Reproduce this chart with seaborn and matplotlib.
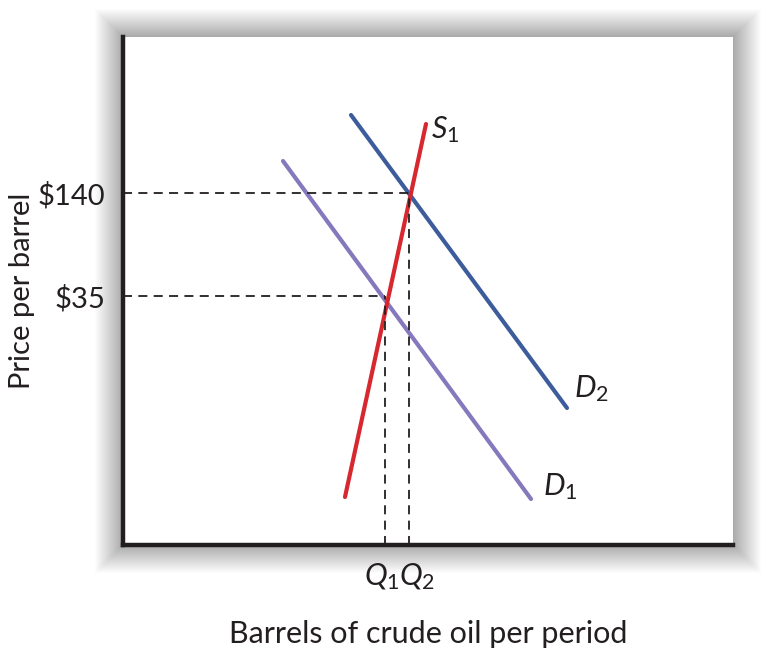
import matplotlib
matplotlib.use("Agg")
import matplotlib.pyplot as plt
import matplotlib.transforms as mtransforms
import seaborn as sns
import pandas as pd
from matplotlib.patches import Rectangle

# curve end points (axis units 0..610 x 0..508)
d1_x = [160, 408]
d1_y = [384, 46]
d2_x = [228, 444]
d2_y = [430, 137]
s1_x = [222, 303]
s1_y = [48, 421]

# equilibria: ($35, Q1) and ($140, Q2)
price_levels = [249, 352]
price_labels = ["$35", "$140"]
qty_levels = [262, 286]
qty_labels = [r"$Q_1$", r"$Q_2$"]

curve_colors = {"D1": "#8678bc", "D2": "#3d5c9c", "S1": "#d6282e"}

sns.set_style("white")
plt.rcParams["font.family"] = ["Lato", "DejaVu Sans"]
plt.rcParams["mathtext.fontset"] = "custom"
plt.rcParams["mathtext.it"] = "Lato:italic"
plt.rcParams["mathtext.rm"] = "Lato"

df = pd.concat([
    pd.DataFrame({"x": d1_x, "y": d1_y, "curve": "D1"}),
    pd.DataFrame({"x": d2_x, "y": d2_y, "curve": "D2"}),
    pd.DataFrame({"x": s1_x, "y": s1_y, "curve": "S1"}),
])

fig = plt.figure(figsize=(7.71, 6.53), dpi=100)
l, b, w, h = 123 / 771, 108 / 653, 610 / 771, 508 / 653
ax = fig.add_axes([l, b, w, h])

# soft shadow around the plot box
for i in range(28):
    dx = (i + 1) * 1.0 / 771
    dy = (i + 1) * 1.0 / 653
    fig.patches.append(Rectangle((l - dx, b - dy), w + 2 * dx, h + 2 * dy,
                                 transform=fig.transFigure, facecolor="black",
                                 edgecolor="none", alpha=0.013, zorder=-10))

sns.lineplot(data=df, x="x", y="y", hue="curve", palette=curve_colors,
             estimator=None, sort=False, linewidth=3.0, legend=False, ax=ax)

for p, q in zip(price_levels, qty_levels):
    ax.plot([0, q], [p, p], color="#231f20", linestyle=(0, (5, 3.5)), linewidth=1.3)
    ax.plot([q, q], [0, p], color="#231f20", linestyle=(0, (5, 3.5)), linewidth=1.3)

ax.text(308, 415, r"$S_1$", fontsize=22, ha="left", va="center", color="#231f20")
ax.text(451, 156, r"$D_2$", fontsize=22, ha="left", va="center", color="#231f20")
ax.text(420, 58, r"$D_1$", fontsize=22, ha="left", va="center", color="#231f20")

ax.set_xlim(0, 610)
ax.set_ylim(0, 508)
ax.set_xticks(qty_levels)
ax.set_xticklabels(qty_labels, fontsize=22)
ax.set_yticks(price_levels)
ax.set_yticklabels(price_labels, fontsize=21)
ax.tick_params(axis="y", length=0, pad=13, colors="#231f20")
ax.tick_params(axis="x", length=0, pad=12, colors="#231f20")

# nudge Q1 / Q2 apart so they sit side by side as in the figure
shifts = [-3, 8]
for lab, s in zip(ax.get_xticklabels(), shifts):
    lab.set_transform(lab.get_transform() +
                      mtransforms.ScaledTranslation(s / 100, 0, fig.dpi_scale_trans))

ax.set_xlabel("Barrels of crude oil per period", fontsize=22, labelpad=20, color="#231f20")
ax.set_ylabel("Price per barrel", fontsize=21, color="#231f20")
ax.yaxis.set_label_coords(-0.145, 0.5)

ax.set_facecolor("white")
for side in ["top", "right"]:
    ax.spines[side].set_visible(False)
for side in ["left", "bottom"]:
    ax.spines[side].set_color("#231f20")
    ax.spines[side].set_linewidth(3.2)

fig.savefig("out.png", dpi=100, facecolor="white")
